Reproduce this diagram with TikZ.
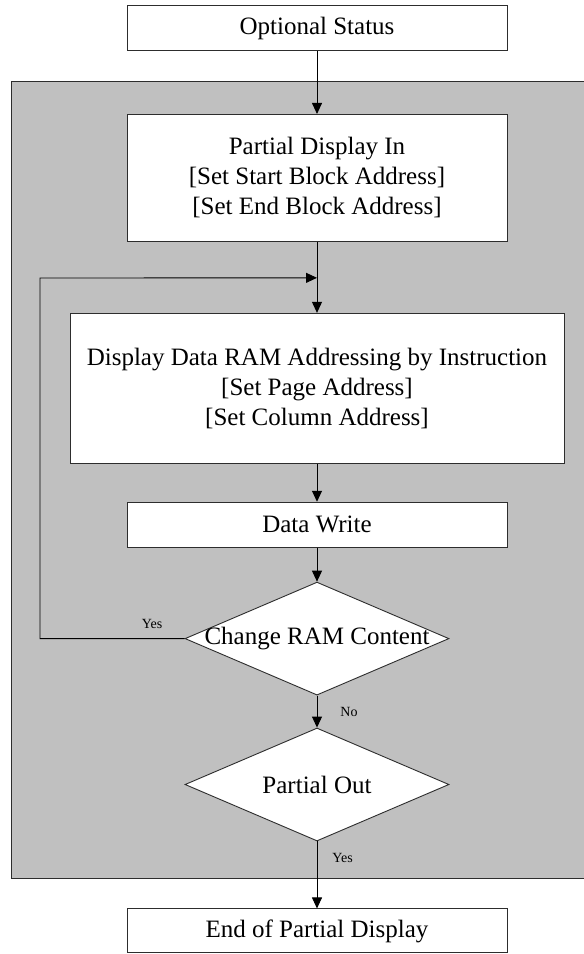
\documentclass[tikz,border=0pt]{standalone}
\usepackage{fontspec}
\setmainfont{Liberation Serif}
\usetikzlibrary{shapes.geometric,arrows.meta,positioning}
\definecolor{linegray}{RGB}{45,45,45}
\definecolor{panelgray}{RGB}{192,192,192}

\begin{document}
\begin{tikzpicture}[x=1pt, y=-1pt, >={Triangle[length=11pt,width=10pt]},
  stepbox/.style={draw=linegray, line width=0.9pt, fill=white, inner sep=2pt,
    align=center, font=\fontsize{25}{30}\selectfont},
  decision/.style={diamond, draw=linegray, line width=0.9pt, fill=white,
    inner sep=0pt, minimum width=264pt, minimum height=113pt},
  flow/.style={->, line width=0.9pt, draw=black},
  lbl/.style={font=\fontsize{14}{16}\selectfont, inner sep=2pt}]
\useasboundingbox (0,0) rectangle (584,954);
% shaded partial display region
\fill[panelgray] (11,81) rectangle (590,878);
\draw[linegray, line width=0.9pt] (590,81) -- (11,81) -- (11,878) -- (590,878);

\node[stepbox, minimum width=380pt, minimum height=45pt] (status) at (317,28) {Optional Status};
\node[stepbox, below=63pt of status, minimum width=380pt, minimum height=127pt] (partialin)
  {Partial Display In\\{[Set Start Block Address]}\\{[Set End Block Address]}};
\coordinate[below=36pt of partialin] (merge);
\node[stepbox, below=71pt of partialin, minimum width=494pt, minimum height=150pt] (dispram)
  {Display Data RAM Addressing by Instruction\\{[Set Page Address]}\\{[Set Column Address]}};
\node[stepbox, below=38pt of dispram, minimum width=380pt, minimum height=45pt] (datawrite) {Data Write};
\node[decision, below=34pt of datawrite,
      label={[font=\fontsize{25}{30}\selectfont]center:Change RAM Content}] (change) {};
\node[decision, below=32pt of change,
      label={[font=\fontsize{25}{30}\selectfont]center:Partial Out}] (partialout) {};
\node[stepbox, below=67pt of partialout, minimum width=380pt, minimum height=44pt] (finish) {End of Partial Display};
\coordinate (loopcorner) at (40,278);

\draw[flow] (status) -- (partialin);
\draw[flow] (partialin) -- (dispram);
\draw[flow] (dispram) -- (datawrite);
\draw[flow] (datawrite) -- (change);
\draw[flow] (change.west) -| (loopcorner) -- (merge);
\node[lbl, above left=8pt and 20pt of change.west] (yesloop) {Yes};
\draw[flow] (change) -- node[lbl, right=21pt] (nolbl) {No} (partialout);
\draw[flow] (partialout) -- node[lbl, right=13pt, pos=0.25] (yesout) {Yes} (finish);
\end{tikzpicture}
\end{document}
